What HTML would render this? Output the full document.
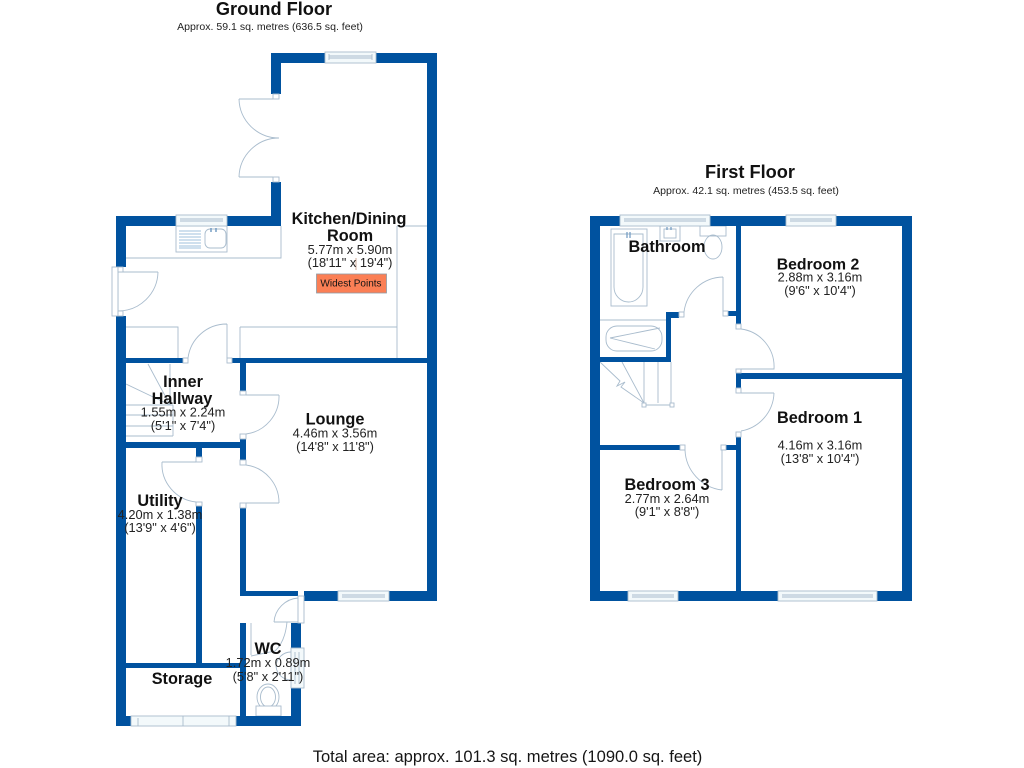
<!DOCTYPE html>
<html>
<head>
<meta charset="utf-8">
<style>
html,body{margin:0;padding:0;background:#fff;width:1024px;height:768px;overflow:hidden}
svg{display:block}
text{font-family:"Liberation Sans",sans-serif;fill:#151515;text-anchor:middle}
.t{font-size:18.2px;font-weight:bold;fill:#111}
.a{font-size:10.55px;fill:#222}
.r{font-size:16.3px;font-weight:bold;fill:#111}
.d{font-size:12.8px;fill:#222}
.w{fill:#00529f}
.l{fill:none;stroke:#a9bccd;stroke-width:.9}
.s{fill:#fff;stroke:#a9bccd;stroke-width:.9}
.g{fill:#f3f9fb;stroke:#a9bccd;stroke-width:.9}
</style>
</head>
<body>
<svg width="1024" height="768" viewBox="0 0 1024 768" xmlns="http://www.w3.org/2000/svg">
<rect width="1024" height="768" fill="#fff"/>

<!-- Fittings -->
<g class="l">
<path d="M126 258H281V226M397 226H427M397 226V358M240 327H397M240 327V358M126 327H178V358M251 623V655"/>
<path d="M148 364L170 405M126 384L170 405M126 405H173M126 415H173M126 426H173M126 436H173M170 364V405M173 405V436"/>
<!-- sink -->
<rect x="176" y="226" width="51" height="26"/>
<path d="M179 231H201M179 234H201M179 237H201M179 240H201M179 243H201M179 246H201M179 248H201" stroke="#9fc0dc"/>
<rect x="205" y="229" width="21" height="19" rx="5"/>
<path d="M211 228V232M216 228V232" stroke="#6d98c0" stroke-width="1.4"/>
<!-- french door -->
<path d="M239 99H273M239 99A40 40 0 0 0 279 138M239 177H273M239 177A40 40 0 0 1 279 138"/>
<!-- back door -->
<path d="M118 272H158M158 272A40 40 0 0 1 118 311M118 272V311"/>
<!-- hall door -->
<path d="M227 358V324M227 324A39 39 0 0 0 188 358"/>
<!-- lounge doors -->
<path d="M246 395H279M279 395A38 38 0 0 1 246 434M246 503H279M279 503A38 38 0 0 0 246 465"/>
<!-- utility door -->
<path d="M196 462H162M162 462A38 38 0 0 0 196 502"/>
<!-- WC door -->
<path d="M274 622H298M274 622A26 26 0 0 1 298 598M287 622Q285 642 275 651L251 656"/>
<path d="M291 652A15 15 0 0 0 276 666A15 15 0 0 0 291 680"/>
<!-- WC pan -->
<ellipse cx="268" cy="697" rx="11" ry="13"/>
<ellipse cx="268" cy="697" rx="7.5" ry="10"/>
<rect x="256" y="706" width="25" height="10" fill="#fff"/>
<!-- bathroom -->
<rect x="611" y="229" width="36" height="77"/>
<path d="M614 234H643V287A14.5 15 0 0 1 614 287Z"/>
<path d="M627 232V238M630 232V238" stroke="#6d98c0" stroke-width="1.2"/>
<rect x="660" y="226" width="20" height="15"/>
<rect x="664" y="229" width="12" height="9"/>
<path d="M667 227V230M671 227V230" stroke="#6d98c0" stroke-width="1.2"/>
<rect x="700" y="226" width="26" height="10"/>
<ellipse cx="713" cy="247" rx="9" ry="12"/>
<path d="M600 320H666"/>
<rect x="606" y="326" width="56" height="25" rx="11"/>
<path d="M610 338L660 328M610 338L655 349"/>
<!-- stairs -->
<path d="M622 362L644 403M644 362V403M658 362V403M671 362V405M644 405H672"/>
<path d="M600 362L620 381L617 386L625 382L621 387L644 403"/>
<!-- first floor doors -->
<path d="M723 311V277M723 277A40 40 0 0 0 684 312"/>
<path d="M741 329A38 38 0 0 1 774 369H741M774 393H741M774 393A40 40 0 0 1 741 431"/>
<path d="M722 450V490M685 450A42 42 0 0 0 722 490"/>
<path d="M356 258V270" stroke="#c9a08c"/>
</g>

<!-- Ground floor walls -->
<g class="w">
<rect x="271" y="53" width="166" height="10"/>
<rect x="271" y="53" width="10" height="41"/>
<rect x="271" y="182" width="10" height="44"/>
<rect x="116" y="216" width="165" height="10"/>
<rect x="116" y="216" width="10" height="51"/>
<rect x="116" y="316" width="10" height="410"/>
<rect x="427" y="53" width="10" height="548"/>
<rect x="126" y="358" width="57" height="5"/>
<rect x="232" y="358" width="195" height="5"/>
<rect x="240" y="363" width="6" height="28"/>
<rect x="240" y="439" width="6" height="21"/>
<rect x="126" y="442" width="114" height="6"/>
<rect x="196" y="448" width="6" height="9"/>
<rect x="196" y="506" width="6" height="157"/>
<rect x="126" y="663" width="114" height="5"/>
<rect x="240" y="508" width="6" height="88"/>
<rect x="240" y="591" width="58" height="5"/>
<rect x="304" y="591" width="133" height="10"/>
<rect x="240" y="623" width="6" height="103"/>
<rect x="291" y="623" width="10" height="25"/>
<rect x="291" y="688" width="10" height="38"/>
<rect x="236" y="716" width="65" height="10"/>
<rect x="116" y="716" width="15" height="10"/>
</g>

<!-- First floor walls -->
<g class="w">
<rect x="590" y="216" width="322" height="10"/>
<rect x="590" y="216" width="10" height="385"/>
<rect x="902" y="216" width="10" height="385"/>
<rect x="590" y="591" width="322" height="10"/>
<rect x="736" y="226" width="5" height="98"/>
<rect x="728" y="311" width="8" height="5"/>
<rect x="666" y="312" width="5" height="50"/>
<rect x="666" y="312" width="13" height="6"/>
<rect x="600" y="357" width="71" height="5"/>
<rect x="736" y="373" width="166" height="6"/>
<rect x="736" y="373" width="5" height="15"/>
<rect x="736" y="437" width="5" height="154"/>
<rect x="726" y="445" width="10" height="5"/>
<rect x="600" y="445" width="80" height="5"/>
</g>

<!-- Windows, frames and door jambs -->
<g>
<rect class="g" x="325" y="52" width="51" height="11"/>
<path class="l" d="M329 56H372M329 58H372M329 54V60M372 54V60"/>
<rect class="g" x="176" y="215" width="51" height="11"/>
<path class="l" d="M180 219H223M180 221H223"/>
<rect class="s" x="273" y="94" width="6" height="5"/>
<rect class="s" x="273" y="177" width="6" height="5"/>
<rect class="s" x="112" y="267" width="6" height="49"/>
<rect class="s" x="118" y="267" width="5" height="5"/>
<rect class="s" x="118" y="311" width="5" height="5"/>
<rect class="s" x="183" y="358" width="5" height="5"/>
<rect class="s" x="227" y="358" width="5" height="5"/>
<rect class="s" x="240" y="391" width="6" height="4"/>
<rect class="s" x="240" y="434" width="6" height="5"/>
<rect class="s" x="240" y="460" width="6" height="5"/>
<rect class="s" x="240" y="503" width="6" height="5"/>
<rect class="s" x="196" y="457" width="6" height="5"/>
<rect class="s" x="196" y="502" width="6" height="4"/>
<rect class="g" x="338" y="591" width="51" height="10"/>
<path class="l" d="M342 595H385M342 597H385"/>
<rect class="s" x="298" y="596" width="6" height="27"/>
<rect class="g" x="291" y="648" width="13" height="40"/>
<path class="l" d="M295 652V684M299 652V684"/>
<rect class="g" x="131" y="716" width="105" height="10"/>
<path class="l" d="M138 718V726M183 716V726M229 716V726"/>
<rect class="g" x="620" y="215" width="90" height="11"/>
<path class="l" d="M624 219H706M624 221H706"/>
<rect class="g" x="786" y="215" width="50" height="11"/>
<path class="l" d="M790 219H832M790 221H832"/>
<rect class="g" x="628" y="591" width="50" height="10"/>
<path class="l" d="M632 595H674M632 597H674"/>
<rect class="g" x="778" y="591" width="99" height="10"/>
<path class="l" d="M782 595H873M782 597H873"/>
<rect class="s" x="679" y="312" width="5" height="5"/>
<rect class="s" x="723" y="311" width="5" height="5"/>
<rect class="s" x="736" y="324" width="5" height="5"/>
<rect class="s" x="736" y="369" width="5" height="4"/>
<rect class="s" x="736" y="388" width="5" height="5"/>
<rect class="s" x="736" y="432" width="5" height="5"/>
<rect class="s" x="680" y="445" width="5" height="5"/>
<rect class="s" x="721" y="445" width="5" height="5"/>
<rect class="s" x="642" y="403" width="4" height="4"/>
<rect class="s" x="670" y="403" width="4" height="4"/>
</g>

<!-- Widest points -->
<rect x="316.500" y="274" width="70" height="19" fill="#fb7f55" stroke="#8f9ba5" stroke-width=".8"/>
<text x="351" y="286.500" style="font-size:10px">Widest Points</text>

<!-- Titles -->
<text class="t" x="274" y="15">Ground Floor</text>
<text class="a" x="270" y="30">Approx. 59.1 sq. metres (636.5 sq. feet)</text>
<text class="t" x="750" y="178">First Floor</text>
<text class="a" x="746" y="194">Approx. 42.1 sq. metres (453.5 sq. feet)</text>
<text x="507.500" y="762" style="font-size:16.55px">Total area: approx. 101.3 sq. metres (1090.0 sq. feet)</text>

<!-- Ground floor labels -->
<text class="r" x="349" y="224">Kitchen/Dining</text>
<text class="r" x="350" y="241">Room</text>
<text class="d" x="350" y="254">5.77m x 5.90m</text>
<text class="d" x="350" y="267">(18'11" x 19'4")</text>
<text class="r" x="183" y="387">Inner</text>
<text class="r" x="182" y="404">Hallway</text>
<text class="d" x="183" y="416.500">1.55m x 2.24m</text>
<text class="d" x="183" y="430">(5'1" x 7'4")</text>
<text class="r" x="335" y="424.500">Lounge</text>
<text class="d" x="335" y="437.500">4.46m x 3.56m</text>
<text class="d" x="335" y="451">(14'8" x 11'8")</text>
<text class="r" x="160" y="506">Utility</text>
<text class="d" x="160" y="519">4.20m x 1.38m</text>
<text class="d" x="160" y="532">(13'9" x 4'6")</text>
<text class="r" x="182" y="684">Storage</text>
<text class="r" x="268" y="654">WC</text>
<text class="d" x="268" y="667">1.72m x 0.89m</text>
<text class="d" x="268" y="681">(5'8" x 2'11")</text>

<!-- First floor labels -->
<text class="r" x="667" y="252">Bathroom</text>
<text class="r" x="818" y="269.500" style="font-size:15.8px">Bedroom 2</text>
<text class="d" x="820" y="281.500">2.88m x 3.16m</text>
<text class="d" x="820" y="295">(9'6" x 10'4")</text>
<text class="r" x="819.500" y="423">Bedroom 1</text>
<text class="d" x="820" y="449.500">4.16m x 3.16m</text>
<text class="d" x="820" y="463">(13'8" x 10'4")</text>
<text class="r" x="667" y="490">Bedroom 3</text>
<text class="d" x="667" y="503">2.77m x 2.64m</text>
<text class="d" x="667" y="516">(9'1" x 8'8")</text>
</svg>
</body>
</html>
